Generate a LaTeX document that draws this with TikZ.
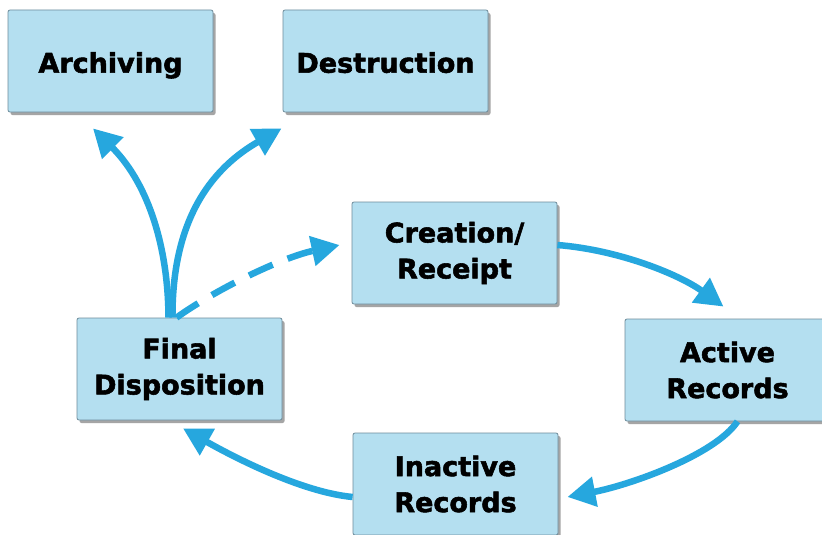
\documentclass[tikz,border=0pt]{standalone}
\usepackage{fontspec}
\setmainfont{DejaVu Sans}[BoldFeatures={FakeBold=2}]
\usetikzlibrary{arrows.meta,shadows}
\definecolor{boxfill}{RGB}{180,223,240}
\definecolor{boxline}{RGB}{110,140,155}
\definecolor{arrowblue}{RGB}{38,167,222}
\tikzset{
  stepbox/.style={draw=boxline, line width=0.8pt, fill=boxfill, rounded corners=2pt,
    minimum width=205pt, minimum height=102pt, align=center,
    font=\fontsize{27}{36}\selectfont\bfseries, inner sep=0pt,
    drop shadow={shadow xshift=2.5pt, shadow yshift=-3pt, fill=black!70, opacity=0.5}},
  oneline/.style={text height=27pt, text depth=3.6pt},
  flow/.style={draw=arrowblue, line width=6.5pt,
    -{Triangle[length=28pt,width=29pt,fill=arrowblue]}},
  dashflow/.style={flow, dash pattern=on 26pt off 16pt}
}
\begin{document}
\begin{tikzpicture}[x=1pt,y=-1pt]
\useasboundingbox (0,0) rectangle (822,535);
\clip (0,0) rectangle (822,535);
\fill[white] (0,0) rectangle (822,535);

\node[stepbox,oneline] (arch) at (110.5,61) {Archiving};
\node[stepbox,oneline] (dest) at (385.5,61) {Destruction};
\node[stepbox] (cr) at (454.5,253) {Creation/\\Receipt};
\node[stepbox] (act) at (727.5,370) {Active\\Records};
\node[stepbox] (ina) at (455.5,484) {Inactive\\Records};
\node[stepbox] (fd) at (179.5,369) {Final\\Disposition};

\draw[flow] ([xshift=-11pt]fd.north) .. controls (168,240) and (145,180) .. ([xshift=-17.5pt,yshift=-16pt]arch.south);
\draw[flow] ([xshift=-7pt]fd.north) .. controls (172,235) and (200,175) .. ([xshift=-1pt,yshift=-16pt]dest.south west);
\draw[dashflow] ([xshift=-3pt]fd.north) .. controls (215,290) and (280,258) .. ([xshift=-12pt,yshift=8pt]cr.west);
\draw[flow] ([yshift=8pt]cr.east) .. controls (620,250) and (680,275) .. ([xshift=-4pt,yshift=12pt]act.north);
\draw[flow] ([xshift=10pt]act.south) .. controls (715,455) and (630,485) .. ([xshift=9pt,yshift=-13pt]ina.east);
\draw[flow] ([yshift=-13pt]ina.west) .. controls (300,492) and (230,455) .. ([xshift=3.5pt,yshift=-8pt]fd.south);
\end{tikzpicture}
\end{document}
